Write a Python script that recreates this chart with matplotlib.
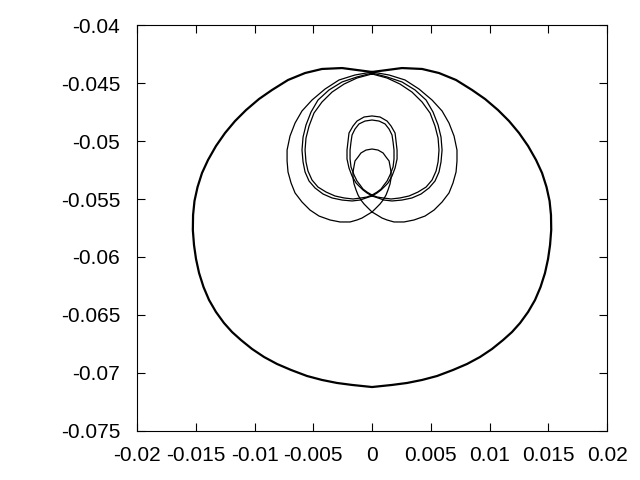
import matplotlib
matplotlib.use('Agg')
import matplotlib.pyplot as plt

plt.rcParams['font.family'] = ['Liberation Sans', 'DejaVu Sans']

# big outer loop, starts/ends at the top crossing
outer_x = [0, -0.00128, -0.00255, -0.00426, -0.00570, -0.00715, -0.00851, -0.00962, -0.01072, -0.01166,
           -0.01251, -0.01328, -0.01396, -0.01447, -0.01485, -0.01511, -0.01523, -0.01525, -0.01515, -0.01498,
           -0.01472, -0.01434, -0.01387, -0.01328, -0.01260, -0.01191, -0.01115, -0.01021, -0.00919, -0.00809,
           -0.00689, -0.00553, -0.00426, -0.00298, -0.00170, 0,
           0.00170, 0.00298, 0.00426, 0.00553, 0.00689, 0.00809, 0.00919, 0.01021, 0.01115, 0.01191,
           0.01260, 0.01328, 0.01387, 0.01434, 0.01472, 0.01498, 0.01515, 0.01525, 0.01523, 0.01511,
           0.01485, 0.01447, 0.01396, 0.01328, 0.01251, 0.01166, 0.01072, 0.00962, 0.00851, 0.00715,
           0.00570, 0.00426, 0.00255, 0.00128, 0]
outer_y = [-0.04405, -0.04388, -0.04371, -0.04379, -0.04414, -0.04474, -0.04560, -0.04638, -0.04733, -0.04828,
           -0.04931, -0.05043, -0.05164, -0.05276, -0.05397, -0.05517, -0.05638, -0.05767, -0.05897, -0.06017,
           -0.06138, -0.06259, -0.06371, -0.06474, -0.06569, -0.06647, -0.06716, -0.06793, -0.06862, -0.06922,
           -0.06974, -0.07026, -0.07060, -0.07086, -0.07103, -0.07121,
           -0.07103, -0.07086, -0.07060, -0.07026, -0.06974, -0.06922, -0.06862, -0.06793, -0.06716, -0.06647,
           -0.06569, -0.06474, -0.06371, -0.06259, -0.06138, -0.06017, -0.05897, -0.05767, -0.05638, -0.05517,
           -0.05397, -0.05276, -0.05164, -0.05043, -0.04931, -0.04828, -0.04733, -0.04638, -0.04560, -0.04474,
           -0.04414, -0.04379, -0.04371, -0.04388, -0.04405]

# pass 1: widest heart lobes + smallest inner loop
p1_x = [0, -0.00145, -0.00281, -0.00400, -0.00511, -0.00596, -0.00655, -0.00698, -0.00723, -0.00723,
        -0.00715, -0.00689, -0.00655, -0.00596, -0.00528, -0.00451, -0.00357, -0.00272, -0.00187, -0.00128,
        -0.00085, -0.00043, 0,
        0.00034, 0.00068, 0.00094, 0.00119, 0.00136, 0.00153, 0.00162, 0.00162, 0.00153, 0.00145,
        0.00119, 0.00094, 0.00051, 0, -0.00051, -0.00094, -0.00119, -0.00145, -0.00153, -0.00162,
        -0.00162, -0.00153, -0.00136, -0.00119, -0.00094, -0.00068, -0.00034, 0,
        0.00043, 0.00085, 0.00128, 0.00187, 0.00272, 0.00357, 0.00451, 0.00528, 0.00596, 0.00655,
        0.00689, 0.00715, 0.00723, 0.00723, 0.00698, 0.00655, 0.00596, 0.00511, 0.00400, 0.00281,
        0.00145, 0]
p1_y = [-0.04405, -0.04431, -0.04474, -0.04552, -0.04647, -0.04741, -0.04845, -0.04957, -0.05078, -0.05172,
        -0.05267, -0.05362, -0.05448, -0.05526, -0.05595, -0.05647, -0.05681, -0.05698, -0.05698, -0.05681,
        -0.05664, -0.05638, -0.05612,
        -0.05578, -0.05543, -0.05509, -0.05466, -0.05422, -0.05371, -0.05319, -0.05267, -0.05216, -0.05172,
        -0.05138, -0.05103, -0.05078, -0.05069, -0.05078, -0.05103, -0.05138, -0.05172, -0.05216, -0.05267,
        -0.05319, -0.05371, -0.05422, -0.05466, -0.05509, -0.05543, -0.05578, -0.05612,
        -0.05638, -0.05664, -0.05681, -0.05698, -0.05698, -0.05681, -0.05647, -0.05595, -0.05526, -0.05448,
        -0.05362, -0.05267, -0.05172, -0.05078, -0.04957, -0.04845, -0.04741, -0.04647, -0.04552, -0.04474,
        -0.04431, -0.04405]

# pass 2: inner heart + oval
p2_x = [0, -0.00128, -0.00255, -0.00366, -0.00460, -0.00519, -0.00562, -0.00587, -0.00596, -0.00587,
        -0.00570, -0.00536, -0.00485, -0.00417, -0.00340, -0.00255, -0.00170, -0.00102, -0.00051, 0,
        0.00043, 0.00077, 0.00111, 0.00136, 0.00170, 0.00196, 0.00213, 0.00213, 0.00204, 0.00196,
        0.00162, 0.00128, 0.00068, 0, -0.00068, -0.00128, -0.00162, -0.00196, -0.00204, -0.00213,
        -0.00213, -0.00196, -0.00170, -0.00136, -0.00111, -0.00077, -0.00043, 0,
        0.00051, 0.00102, 0.00170, 0.00255, 0.00340, 0.00417, 0.00485, 0.00536, 0.00570, 0.00587,
        0.00596, 0.00587, 0.00562, 0.00519, 0.00460, 0.00366, 0.00255, 0.00128, 0]
p2_y = [-0.04414, -0.04448, -0.04491, -0.04560, -0.04647, -0.04750, -0.04862, -0.04966, -0.05078, -0.05181,
        -0.05267, -0.05345, -0.05405, -0.05457, -0.05491, -0.05509, -0.05517, -0.05509, -0.05491, -0.05474,
        -0.05448, -0.05422, -0.05388, -0.05362, -0.05302, -0.05233, -0.05155, -0.05078, -0.05000, -0.04931,
        -0.04871, -0.04828, -0.04793, -0.04784, -0.04793, -0.04828, -0.04871, -0.04931, -0.05000, -0.05078,
        -0.05155, -0.05233, -0.05302, -0.05362, -0.05388, -0.05422, -0.05448, -0.05474,
        -0.05491, -0.05509, -0.05517, -0.05509, -0.05491, -0.05457, -0.05405, -0.05345, -0.05267, -0.05181,
        -0.05078, -0.04966, -0.04862, -0.04750, -0.04647, -0.04560, -0.04491, -0.04448, -0.04414]

# pass 3: slightly tighter heart + oval
p3_x = [0, -0.00128, -0.00238, -0.00340, -0.00426, -0.00494, -0.00536, -0.00562, -0.00570, -0.00562,
        -0.00545, -0.00511, -0.00460, -0.00391, -0.00315, -0.00238, -0.00162, -0.00094, -0.00043, 0,
        0.00043, 0.00077, 0.00102, 0.00128, 0.00153, 0.00179, 0.00187, 0.00187, 0.00179, 0.00170,
        0.00145, 0.00111, 0.00060, 0, -0.00060, -0.00111, -0.00145, -0.00170, -0.00179, -0.00187,
        -0.00187, -0.00179, -0.00153, -0.00128, -0.00102, -0.00077, -0.00043, 0,
        0.00043, 0.00094, 0.00162, 0.00238, 0.00315, 0.00391, 0.00460, 0.00511, 0.00545, 0.00562,
        0.00570, 0.00562, 0.00536, 0.00494, 0.00426, 0.00340, 0.00238, 0.00128, 0]
p3_y = [-0.04422, -0.04457, -0.04509, -0.04578, -0.04664, -0.04759, -0.04871, -0.04974, -0.05078, -0.05181,
        -0.05259, -0.05336, -0.05397, -0.05440, -0.05474, -0.05491, -0.05500, -0.05491, -0.05483, -0.05466,
        -0.05440, -0.05414, -0.05379, -0.05345, -0.05293, -0.05224, -0.05155, -0.05078, -0.05009, -0.04948,
        -0.04897, -0.04853, -0.04828, -0.04819, -0.04828, -0.04853, -0.04897, -0.04948, -0.05009, -0.05078,
        -0.05155, -0.05224, -0.05293, -0.05345, -0.05379, -0.05414, -0.05440, -0.05466,
        -0.05483, -0.05491, -0.05500, -0.05491, -0.05474, -0.05440, -0.05397, -0.05336, -0.05259, -0.05181,
        -0.05078, -0.04974, -0.04871, -0.04759, -0.04664, -0.04578, -0.04509, -0.04457, -0.04422]

x_ticks = [-0.02, -0.015, -0.01, -0.005, 0, 0.005, 0.01, 0.015, 0.02]
x_labels = ['-0.02', '-0.015', '-0.01', '-0.005', '0', '0.005', '0.01', '0.015', '0.02']
y_ticks = [-0.075, -0.07, -0.065, -0.06, -0.055, -0.05, -0.045, -0.04]
y_labels = ['-0.075', '-0.07', '-0.065', '-0.06', '-0.055', '-0.05', '-0.045', '-0.04']

fig = plt.figure(figsize=(6.4, 4.8), dpi=100)
ax = fig.add_axes([0.2141, 0.1021, 0.7344, 0.8458])

ax.plot(outer_x, outer_y, color='black', lw=1.6, solid_joinstyle='round')
for xs, ys in [(p1_x, p1_y), (p2_x, p2_y), (p3_x, p3_y)]:
    ax.plot(xs, ys, color='black', lw=0.9, solid_joinstyle='round')

ax.set_xlim(-0.02, 0.02)
ax.set_ylim(-0.075, -0.04)
ax.set_xticks(x_ticks)
ax.set_xticklabels(x_labels)
ax.set_yticks(y_ticks)
ax.set_yticklabels(y_labels)
ax.tick_params(direction='in', top=True, right=True, length=6, width=0.8, labelsize=15)
ax.tick_params(axis='y', pad=12)
ax.tick_params(axis='x', pad=11)
for s in ax.spines.values():
    s.set_linewidth(0.8)

fig.savefig('out.png', dpi=100)
